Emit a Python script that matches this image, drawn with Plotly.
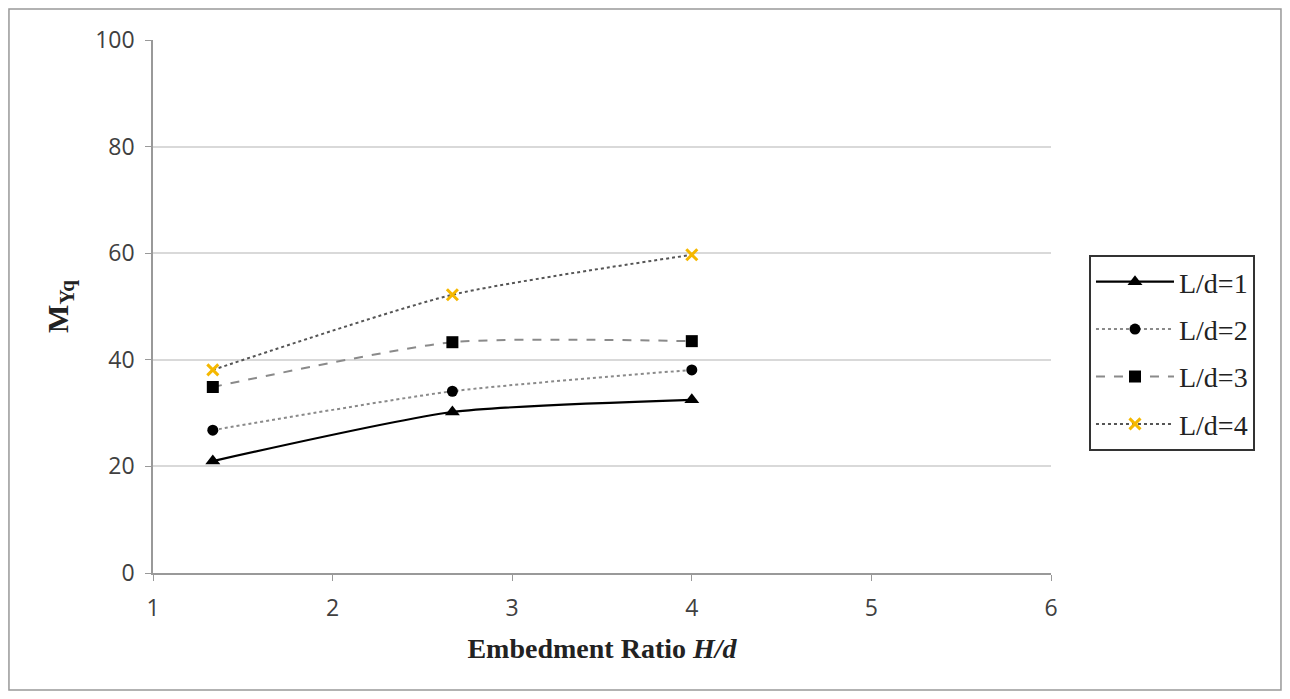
import plotly.graph_objects as go

x_vals = [1.333, 2.667, 4.0]
ld1 = [21.0, 30.2, 32.5]
ld2 = [26.8, 34.1, 38.1]
ld3 = [34.9, 43.3, 43.5]
ld4 = [38.1, 52.2, 59.7]
names = ["L/d=1", "L/d=2", "L/d=3", "L/d=4"]

series = [
    (names[0], ld1, dict(color="black", width=2.2, dash="solid"), dict(symbol="triangle-up", size=13, color="black")),
    (names[1], ld2, dict(color="#8a8a8a", width=2, dash="dot"), dict(symbol="circle", size=11, color="black")),
    (names[2], ld3, dict(color="#8a8a8a", width=2, dash="dash"), dict(symbol="square", size=12, color="black")),
    (names[3], ld4, dict(color="#555555", width=2, dash="dot"), dict(symbol="x-thin", size=11, color="#F5B800", line=dict(color="#F5B800", width=3))),
]

fig = go.Figure()
for i, (nm, ys, ln, mk) in enumerate(series):
    fig.add_trace(go.Scatter(
        x=x_vals, y=ys, name=nm, mode="lines+markers",
        line=dict(shape="spline", smoothing=0.6, **ln),
        marker=mk, legendgroup=f"g{i}",
    ))

fig.update_layout(
    width=1274, height=683,
    paper_bgcolor="white", plot_bgcolor="white",
    margin=dict(l=145, r=231, t=32, b=118),
    showlegend=True,
    legend=dict(
        x=1.0423, y=0.5966, xanchor="left", yanchor="top",
        bordercolor="#333333", borderwidth=2,
        font=dict(family="Liberation Serif", size=28, color="#222222"),
        tracegroupgap=8, itemwidth=78,
    ),
    xaxis=dict(
        range=[1, 6], tickvals=[1, 2, 3, 4, 5, 6],
        showgrid=False, showline=True, linecolor="#999999", linewidth=1.5,
        ticks="outside", ticklen=6, tickcolor="#999999", ticklabelstandoff=8,
        tickfont=dict(family="Open Sans", size=23, color="#404040"),
        title=dict(text="<b>Embedment Ratio <i>H/d</i></b>",
                   font=dict(family="Liberation Serif", size=28, color="#222222"), standoff=16),
        zeroline=False,
    ),
    yaxis=dict(
        range=[0, 100], tickvals=[0, 20, 40, 60, 80, 100],
        showgrid=True, gridcolor="#D9D9D9", gridwidth=1.5,
        showline=True, linecolor="#999999", linewidth=1.5,
        ticks="outside", ticklen=6, tickcolor="#999999", ticklabelstandoff=6,
        tickfont=dict(family="Open Sans", size=23, color="#404040"),
        title=dict(text="<b>M<sub>Yq</sub></b>",
                   font=dict(family="Liberation Serif", size=30, color="#222222"), standoff=18),
        zeroline=False,
    ),
    shapes=[dict(type="rect", xref="paper", yref="paper",
                 x0=-0.1604, x1=1.2561, y0=-0.2195, y1=1.0582,
                 line=dict(color="#999999", width=1.5), fillcolor="rgba(0,0,0,0)", layer="below")],
)

fig.write_html("out.html")
